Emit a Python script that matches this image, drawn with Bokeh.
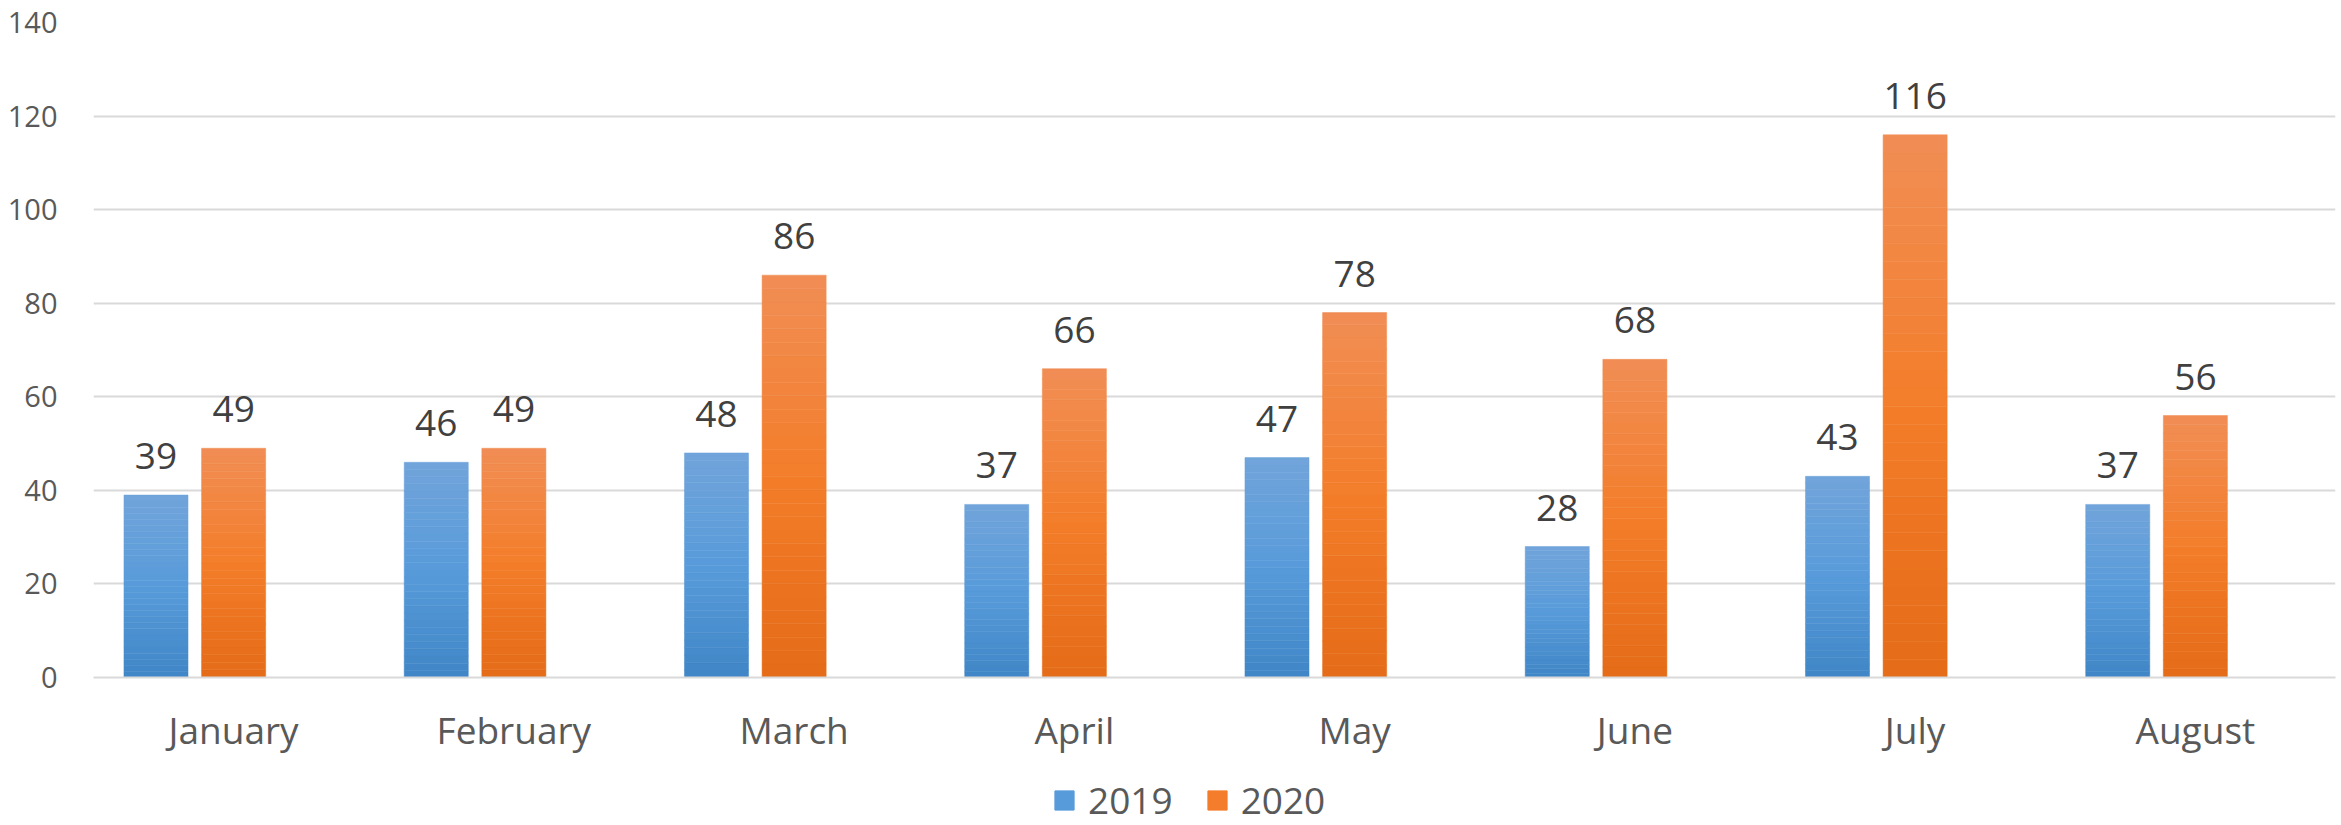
from bokeh.plotting import figure
from bokeh.layouts import column
from bokeh.models import (ColumnDataSource, FactorRange, Legend, LegendItem,
                          Range1d, FixedTicker)
from bokeh.transform import dodge
from bokeh.embed import file_html
from bokeh.resources import INLINE
from bokeh.core.properties import value

months = ["January", "February", "March", "April", "May", "June", "July", "August"]
v2019 = [39, 46, 48, 37, 47, 28, 43, 37]
v2020 = [49, 49, 86, 66, 78, 68, 116, 56]
series_names = ["2019", "2020"]
y_ticks = [0, 20, 40, 60, 80, 100, 120, 140]

# gradient stops (bottom, middle, top)
blue_stops = [(64, 134, 198), (88, 155, 218), (113, 164, 218)]
orange_stops = [(229, 107, 23), (243, 125, 42), (241, 142, 85)]

FONT = "Open Sans"
NSEG = 30


def grad_color(stops, f):
    if f <= 0.5:
        a, b, t = stops[0], stops[1], f / 0.5
    else:
        a, b, t = stops[1], stops[2], (f - 0.5) / 0.5
    c = tuple(int(round(a[k] + (b[k] - a[k]) * t)) for k in range(3))
    return "#%02x%02x%02x" % c


def segments(vals, stops):
    xs, bots, tops, cols = [], [], [], []
    for m, v in zip(months, vals):
        for i in range(NSEG):
            xs.append(m)
            bots.append(v * i / NSEG)
            tops.append(v * (i + 1) / NSEG)
            cols.append(grad_color(stops, (i + 0.5) / NSEG))
    return ColumnDataSource(dict(x=xs, bottom=bots, top=tops, color=cols))


p = figure(width=2341, height=759, output_backend="svg", toolbar_location=None,
           x_range=FactorRange(factors=months, range_padding=0),
           y_range=Range1d(0, 140),
           min_border_left=93, min_border_right=6, min_border_top=22,
           min_border_bottom=82)
p.outline_line_color = None
p.background_fill_color = "white"
p.border_fill_color = "white"

off2019 = -0.277
bw = 0.2286

s19 = segments(v2019, blue_stops)
s20 = segments(v2020, orange_stops)
p.vbar(x=dodge("x", off2019, range=p.x_range), bottom="bottom", top="top",
       width=bw, fill_color="color", line_color="color", line_width=0.5, source=s19)
p.vbar(x=dodge("x", 0.0, range=p.x_range), bottom="bottom", top="top",
       width=bw, fill_color="color", line_color="color", line_width=0.5, source=s20)

lab19 = ColumnDataSource(dict(x=months, y=v2019, t=[str(v) for v in v2019]))
lab20 = ColumnDataSource(dict(x=months, y=v2020, t=[str(v) for v in v2020]))
for src, off in ((lab19, off2019), (lab20, 0.0)):
    p.text(x=dodge("x", off, range=p.x_range), y="y", text="t", source=src,
           text_align="center", text_baseline="alphabetic", y_offset=-39,
           text_font=value(FONT), text_font_size="37px", text_color="#404040")

# grid
p.xgrid.grid_line_color = None
p.ygrid.grid_line_color = "#d9d9d9"
p.ygrid.grid_line_width = 2
p.yaxis.ticker = FixedTicker(ticks=y_ticks)

# axes
p.yaxis.axis_line_color = None
p.yaxis.major_tick_line_color = None
p.yaxis.minor_tick_line_color = None
p.yaxis.major_label_standoff = 30
p.yaxis.major_label_text_font = FONT
p.yaxis.major_label_text_font_size = "29px"
p.yaxis.major_label_text_color = "#595959"

p.xaxis.axis_line_color = "#d9d9d9"
p.xaxis.axis_line_width = 2
p.xaxis.major_tick_line_color = None
p.xaxis.minor_tick_line_color = None
p.xaxis.major_label_standoff = 20
p.xaxis.major_label_text_font = FONT
p.xaxis.major_label_text_font_size = "37px"
p.xaxis.major_label_text_color = "#595959"

# legend strip below the chart
pl = figure(width=2341, height=66, output_backend="svg", toolbar_location=None,
            x_axis_location=None, y_axis_location=None,
            min_border_left=0, min_border_right=0, min_border_top=0,
            min_border_bottom=0)
pl.outline_line_color = None
pl.xgrid.grid_line_color = None
pl.ygrid.grid_line_color = None
legend_colors = [grad_color(blue_stops, 0.5), grad_color(orange_stops, 0.5)]
nan = float("nan")
lr = [pl.vbar(x=[nan], top=[nan], width=1, fill_color=c, line_color=c)
      for c in legend_colors]

legend = Legend(items=[LegendItem(label=n, renderers=[r]) for n, r in zip(series_names, lr)],
                orientation="horizontal", location=(959, 0),
                label_text_font=FONT, label_text_font_size="37px",
                label_text_color="#595959", glyph_width=24, glyph_height=24,
                label_standoff=12, spacing=32, padding=0, margin=0,
                label_height=24, border_line_color=None, background_fill_alpha=0)
pl.add_layout(legend, "center")

layout = column(p, pl, spacing=0)
open("out.html", "w").write(file_html(layout, INLINE))
